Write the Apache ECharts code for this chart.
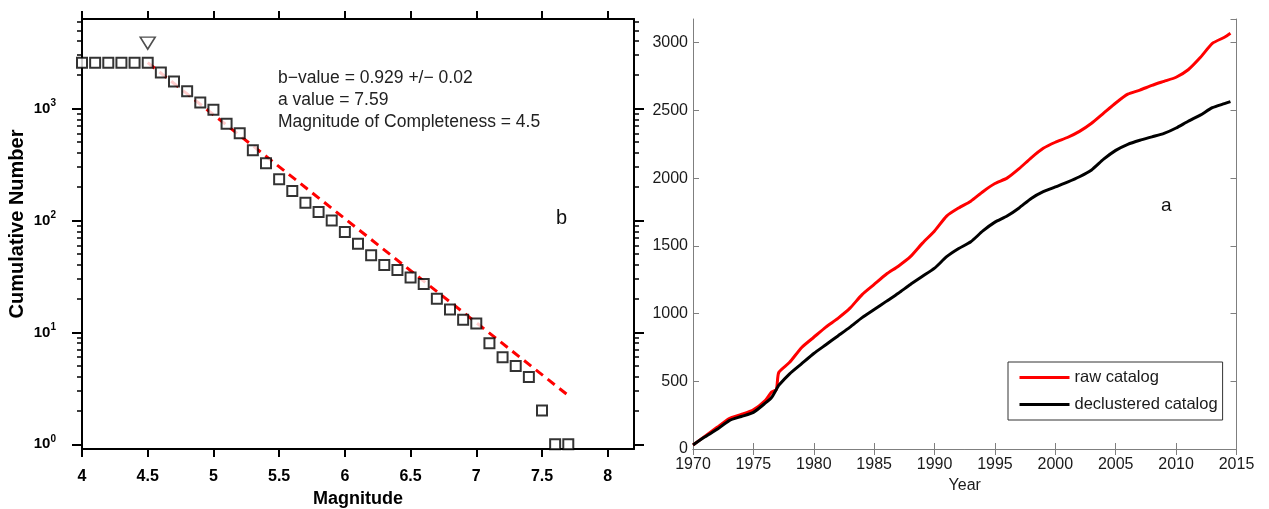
<!DOCTYPE html>
<html>
<head>
<meta charset="utf-8">
<script src="https://cdn.jsdelivr.net/npm/echarts@6/dist/echarts.min.js"></script>
<style>
  html, body { margin: 0; padding: 0; background: #fff; }
  #chart { width: 1269px; height: 509px; }
</style>
</head>
<body>
<div id="chart"></div>
<script>
// --- panel b: frequency-magnitude distribution ---
const magnitudes = [4.0, 4.1, 4.2, 4.3, 4.4, 4.5, 4.6, 4.7, 4.8, 4.9, 5.0, 5.1, 5.2, 5.3, 5.4, 5.5, 5.6, 5.7, 5.8, 5.9,
  6.0, 6.1, 6.2, 6.3, 6.4, 6.5, 6.6, 6.7, 6.8, 6.9, 7.0, 7.1, 7.2, 7.3, 7.4, 7.5, 7.6, 7.7];
const cumulativeCounts = [2560, 2560, 2560, 2560, 2560, 2560, 2100, 1740, 1430, 1130, 975, 730, 600, 425, 325, 234, 183, 144, 119, 100,
  79, 62, 49, 40, 36, 31, 27, 20, 16, 13, 12, 8, 6, 5, 4, 2, 1, 1];
const fitLine = [[4.5, 2570], [7.7, 2.73]];
const mcMarker = [[4.5, 3840]];
const magTicks = [4, 4.5, 5, 5.5, 6, 6.5, 7, 7.5, 8];
const decadeTicks = [1, 10, 100, 1000];
const minorLogTicks = [2, 3, 4, 5, 6, 7, 8, 9, 20, 30, 40, 50, 60, 70, 80, 90,
  200, 300, 400, 500, 600, 700, 800, 900, 2000, 3000, 4000, 5000, 6000];

// --- panel a: cumulative number of events ---
const years = [1970, 1971, 1972, 1973, 1974, 1975, 1976, 1976.5, 1976.9, 1977.1, 1978, 1979, 1980, 1981, 1982, 1983, 1984,
  1985, 1986, 1987, 1988, 1989, 1990, 1991, 1992, 1993, 1994, 1995, 1996, 1997, 1998, 1999, 2000, 2001, 2002,
  2003, 2004, 2005, 2006, 2007, 2008, 2009, 2010, 2011, 2012, 2013, 2014, 2014.5];
const rawCatalog = [30, 95, 160, 225, 255, 290, 360, 420, 440, 565, 640, 750, 825, 900, 965, 1040, 1140,
  1215, 1290, 1350, 1420, 1520, 1610, 1720, 1780, 1830, 1900, 1960, 2000, 2070, 2150, 2220, 2265, 2300, 2345,
  2405, 2480, 2555, 2620, 2650, 2685, 2715, 2745, 2800, 2890, 2995, 3040, 3070];
const declusteredCatalog = [30, 90, 145, 210, 240, 270, 340, 380, 440, 470, 555, 630, 705, 770, 835, 900, 970,
  1030, 1090, 1150, 1215, 1275, 1335, 1420, 1480, 1530, 1610, 1675, 1720, 1780, 1850, 1900, 1935, 1970, 2010,
  2060, 2140, 2205, 2250, 2280, 2305, 2330, 2370, 2420, 2465, 2520, 2550, 2565];

const FONT = '"Liberation Sans", Arial, Helvetica, sans-serif';
const GRAY = '#7f7f7f';
const LOG_MIN = 0.908, LOG_MAX = 6310;

const boldLabel = { color: '#000', fontFamily: FONT, fontSize: 16, fontWeight: 'bold' };
const plainLabel = { color: '#1a1a1a', fontFamily: FONT, fontSize: 16 };
const plainNum = (v) => String(v);

const superscript = (v) => {
  const e = Math.round(Math.log10(v));
  return `{b|10}{s|${e}}`;
};

const logAxis = (position, major) => ({
  type: 'log', gridIndex: 0, position, logBase: 10, min: LOG_MIN, max: LOG_MAX,
  axisLine: { show: major, lineStyle: { color: '#000', width: 2 } },
  axisTick: {
    show: true, inside: false, length: major ? 10 : 5,
    lineStyle: { color: '#000', width: major ? 2 : 1.5 },
    customValues: major ? decadeTicks : minorLogTicks,
  },
  axisLabel: major && position === 'left'
    ? {
        show: true, margin: 26, customValues: decadeTicks, formatter: superscript,
        rich: {
          b: { ...boldLabel, fontSize: 15 },
          s: { ...boldLabel, fontSize: 10, padding: [0, 0, 10, 0] },
        },
      }
    : { show: false },
  splitLine: { show: false },
});

const magAxis = (position) => ({
  type: 'value', gridIndex: 0, position, min: 4, max: 8.2,
  axisLine: { lineStyle: { color: '#000', width: 2 } },
  axisTick: { inside: false, length: 8, lineStyle: { color: '#000', width: 2 }, customValues: magTicks },
  axisLabel: position === 'bottom'
    ? { ...boldLabel, margin: 20, customValues: magTicks }
    : { show: false },
  splitLine: { show: false },
});

const chart = echarts.init(document.getElementById('chart'));
chart.setOption({
  backgroundColor: '#fff',
  animation: false,
  grid: [
    { left: 82, top: 19, width: 552, height: 430, outerBoundsMode: 'none' },
    { left: 693, top: 19, width: 543.5, height: 430, outerBoundsMode: 'none' },
  ],
  legend: {
    data: ['raw catalog', 'declustered catalog'],
    orient: 'vertical', left: 1008, top: 362,
    itemWidth: 50, itemHeight: 14, itemGap: 10,
    padding: [7, 5, 7, 10],
    borderColor: '#333', borderWidth: 1, backgroundColor: '#fff',
    itemStyle: { opacity: 0 },
    lineStyle: { width: 3 },
    textStyle: { ...plainLabel, fontSize: 16.5 },
  },
  xAxis: [
    { ...magAxis('bottom'), name: 'Magnitude', nameLocation: 'middle', nameGap: 37, nameTextStyle: { ...boldLabel, fontSize: 18 } },
    magAxis('top'),
    {
      type: 'value', gridIndex: 1, position: 'bottom', min: 1970, max: 2015, interval: 5,
      name: 'Year', nameLocation: 'middle', nameGap: 26, nameTextStyle: plainLabel,
      axisLine: { lineStyle: { color: GRAY, width: 1 } },
      axisTick: { inside: true, length: 6, lineStyle: { color: GRAY } },
      axisLabel: { ...plainLabel, margin: 8, formatter: plainNum },
      splitLine: { show: false },
    },
    {
      type: 'value', gridIndex: 1, position: 'top', min: 1970, max: 2015, interval: 5,
      axisLine: { lineStyle: { color: GRAY, width: 1 } },
      axisTick: { inside: true, length: 6, lineStyle: { color: GRAY } },
      axisLabel: { show: false },
      splitLine: { show: false },
    },
  ],
  yAxis: [
    {
      ...logAxis('left', true), name: 'Cumulative Number', nameLocation: 'middle', nameRotate: 90, nameGap: 55,
      nameTextStyle: { ...boldLabel, fontSize: 20, padding: [0, 0, 0, 20] },
    },
    logAxis('left', false),
    logAxis('right', true),
    logAxis('right', false),
    {
      type: 'value', gridIndex: 1, position: 'left', min: 0, max: 3175, interval: 500,
      axisLine: { show: true, lineStyle: { color: GRAY, width: 1 } },
      axisTick: { show: true, inside: true, length: 6, lineStyle: { color: GRAY } },
      axisLabel: { ...plainLabel, margin: 5, showMaxLabel: false, formatter: plainNum },
      splitLine: { show: false },
    },
    {
      type: 'value', gridIndex: 1, position: 'right', min: 0, max: 3175, interval: 500,
      axisLine: { show: true, lineStyle: { color: GRAY, width: 1 } },
      axisTick: { show: true, inside: true, length: 6, lineStyle: { color: GRAY } },
      axisLabel: { show: false },
      splitLine: { show: false },
    },
  ],
  graphic: [
    { type: 'text', left: 278, top: 69, style: { text: 'b\u2212value = 0.929 +/\u2212 0.02', fill: '#222', font: `17.5px ${FONT}` } },
    { type: 'text', left: 278, top: 91, style: { text: 'a value = 7.59', fill: '#222', font: `17.5px ${FONT}` } },
    { type: 'text', left: 278, top: 113, style: { text: 'Magnitude of Completeness = 4.5', fill: '#222', font: `17.5px ${FONT}` } },
    { type: 'text', left: 556, top: 208, style: { text: 'b', fill: '#111', font: `20px ${FONT}` } },
    { type: 'text', left: 1161, top: 196, style: { text: 'a', fill: '#111', font: `19px ${FONT}` } },
  ],
  series: [
    {
      name: 'fit', type: 'line', xAxisIndex: 0, yAxisIndex: 0, data: fitLine,
      symbol: 'none', z: 2,
      lineStyle: { color: '#ff0000', width: 3, type: [9, 6] },
    },
    {
      name: 'observed', type: 'scatter', xAxisIndex: 0, yAxisIndex: 0,
      data: magnitudes.map((m, i) => [m, cumulativeCounts[i]]),
      symbol: 'rect', symbolSize: 10, z: 3,
      itemStyle: { color: '#fff', borderColor: '#000', borderWidth: 2 },
    },
    {
      name: 'Mc', type: 'scatter', xAxisIndex: 0, yAxisIndex: 0, data: mcMarker,
      symbol: 'triangle', symbolRotate: 180, symbolSize: [15, 12], z: 3,
      itemStyle: { color: '#fff', borderColor: '#222', borderWidth: 1.5 },
    },
    {
      name: 'raw catalog', type: 'line', xAxisIndex: 2, yAxisIndex: 4,
      data: years.map((y, i) => [y, rawCatalog[i]]),
      symbol: 'none', smooth: 0.2, color: '#ff0000',
      lineStyle: { color: '#ff0000', width: 3 },
    },
    {
      name: 'declustered catalog', type: 'line', xAxisIndex: 2, yAxisIndex: 4,
      data: years.map((y, i) => [y, declusteredCatalog[i]]),
      symbol: 'none', smooth: 0.2, color: '#000',
      lineStyle: { color: '#000', width: 3 },
    },
  ],
});
</script>
</body>
</html>
